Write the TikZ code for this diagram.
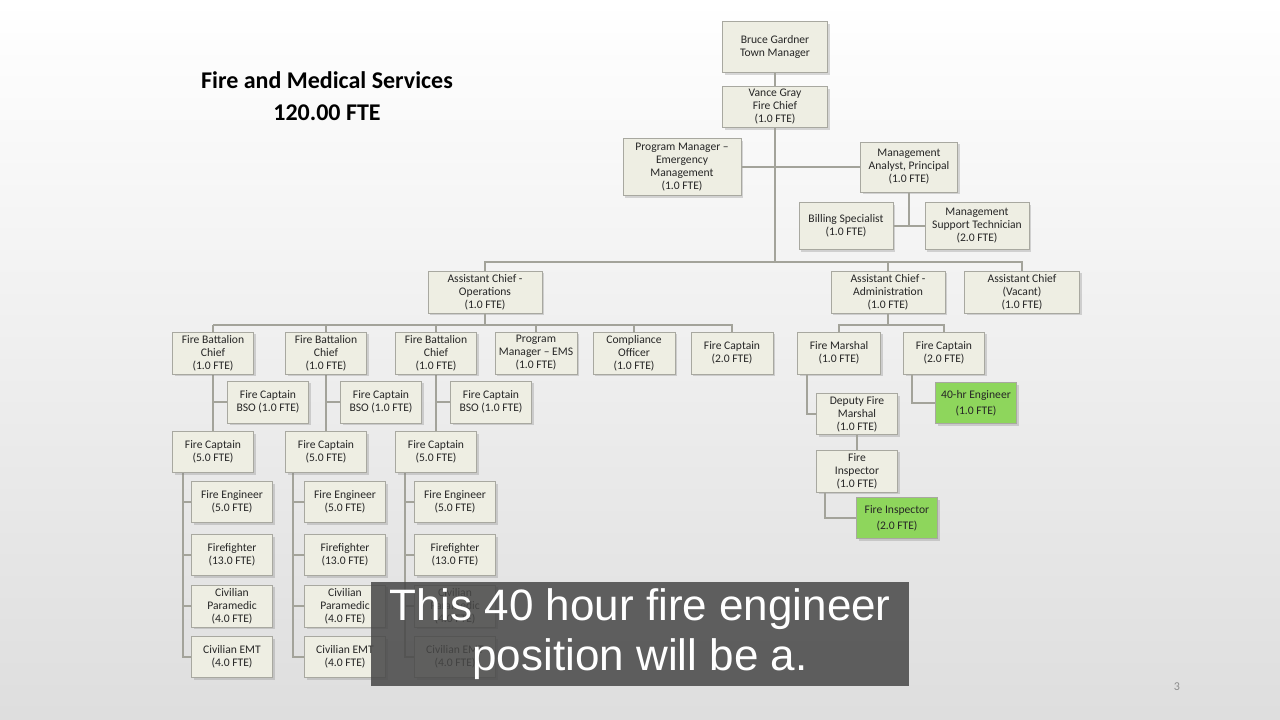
\documentclass[tikz,border=0pt]{standalone}
\usepackage{fontspec}
\setmainfont{Carlito}
\newfontfamily\capfont{Liberation Sans}
\usetikzlibrary{shadows}
\definecolor{boxfill}{HTML}{EEEEE3}
\definecolor{boxline}{HTML}{A8A8A0}
\definecolor{linkgray}{HTML}{A3A39A}
\definecolor{newgreen}{HTML}{8ED65C}
\tikzset{
  post/.style={draw=boxline,fill=boxfill,line width=1pt,align=center,inner sep=0pt,
    font=\fontsize{11.6}{13}\selectfont,text=black!85,
    drop shadow={shadow xshift=2pt,shadow yshift=-2pt,opacity=0.3}},
  newpost/.style={post,fill=newgreen},
  link/.style={draw=linkgray,line width=2.2pt}
}
\begin{document}
\begin{tikzpicture}[x=1pt,y=-1pt]
  \shade[top color=white,bottom color=black!13] (0,0) rectangle (1280,720);
  \useasboundingbox (0,0) rectangle (1280,720);

  \node (title) at (327,96) [align=center,font=\fontsize{24}{32}\selectfont\bfseries]
    {Fire and Medical Services\\120.00 FTE};
  \node (pageno) at (1177,687) [text=black!45,font=\fontsize{12}{14}\selectfont] {3};

  % top of the chart
  \node (tm) at (775,47) [post,minimum width=105,minimum height=51] {Bruce Gardner\\Town Manager};
  \node (fc) at (775,107) [post,minimum width=105,minimum height=41] {Vance Gray\\Fire Chief\\(1.0 FTE)};
  \node (pmem) at (682,167) [post,minimum width=118,minimum height=57] {Program Manager --\\Emergency\\Management\\(1.0 FTE)};
  \node (map) at (909,167) [post,minimum width=97,minimum height=50] {Management\\Analyst, Principal\\(1.0 FTE)};
  \node (bs) at (846,226) [post,minimum width=94,minimum height=47] {Billing Specialist\\(1.0 FTE)};
  \node (mst) at (977,226) [post,minimum width=104,minimum height=47] {Management\\Support Technician\\(2.0 FTE)};

  \node (aco) at (485,292) [post,minimum width=114,minimum height=42] {Assistant Chief -\\Operations\\(1.0 FTE)};
  \node (aca) at (888,292) [post,minimum width=114,minimum height=42] {Assistant Chief -\\Administration\\(1.0 FTE)};
  \node (acv) at (1022,292) [post,minimum width=115,minimum height=42] {Assistant Chief\\(Vacant)\\(1.0 FTE)};

  % operations
  \node (pmems) at (536,353) [post,minimum width=82,minimum height=42] {Program\\Manager -- EMS\\(1.0 FTE)};
  \node (co) at (634,353) [post,minimum width=82,minimum height=42] {Compliance\\Officer\\(1.0 FTE)};
  \node (fcapo) at (732,353) [post,minimum width=82,minimum height=42] {Fire Captain\\(2.0 FTE)};

  % administration
  \node (fm) at (839,353) [post,minimum width=83,minimum height=42] {Fire Marshal\\(1.0 FTE)};
  \node (fcapa) at (944,353) [post,minimum width=81,minimum height=42] {Fire Captain\\(2.0 FTE)};
  \node (eng) at (976,403) [newpost,minimum width=81,minimum height=41] {40-hr Engineer\\[3pt](1.0 FTE)};
  \node (dfm) at (857,414) [post,minimum width=81,minimum height=41] {Deputy Fire\\Marshal\\(1.0 FTE)};
  \node (fi) at (857,471) [post,minimum width=81,minimum height=42] {Fire\\Inspector\\(1.0 FTE)};
  \node (insp) at (897,518) [newpost,minimum width=81,minimum height=41] {Fire Inspector\\[3pt](2.0 FTE)};

  \coordinate (bus) at (775,262);
  \coordinate (opsbus) at (485,325);
  \coordinate (admbus) at (888,325);

  \begin{scope}[on background layer/.style={}]
  \draw[link] (tm) -- (fc);
  \draw[link] (fc.south) -- (bus);
  \draw[link] (pmem.east) -- (map.west);
  \draw[link] (map.south) -- (map.south |- bs);
  \draw[link] (bs.east) -- (mst.west);
  \draw[link] (aco.north) -- (aco.north |- bus) -- (acv.north |- bus) -- (acv.north);
  \draw[link] (aca.north) -- (aca.north |- bus);

  \draw[link] (aco.south) -- (opsbus);
  \draw[link] (213,325) -- (fcapo.north |- opsbus) -- (fcapo.north);
  \draw[link] (pmems.north) -- (pmems.north |- opsbus);
  \draw[link] (co.north) -- (co.north |- opsbus);

  \draw[link] (aca.south) -- (admbus);
  \draw[link] (fm.north) -- (fm.north |- admbus) -- (fcapa.north |- admbus) -- (fcapa.north);
  \draw[link] (fm.south -| 807,0) |- (dfm.west);
  \draw[link] (fcapa.south -| 912,0) |- (eng.west);
  \draw[link] (dfm) -- (fi);
  \draw[link] (fi.south -| 825,0) |- (insp.west);
  \end{scope}

  % the three battalions
  \foreach \c/\x/\l in {A/213/183,B/326/293,C/436/405}{
    \node (bso\c) at (\x+55,402) [post,minimum width=81,minimum height=42] {Fire Captain\\BSO (1.0 FTE)};
    \node (fe\c) at (\x+19,502) [post,minimum width=81,minimum height=41] {Fire Engineer\\(5.0 FTE)};
    \node (ff\c) at (\x+19,555) [post,minimum width=81,minimum height=41] {Firefighter\\(13.0 FTE)};
    \node (cp\c) at (\x+19,606) [post,minimum width=81,minimum height=42] {Civilian\\Paramedic\\(4.0 FTE)};
    \node (emt\c) at (\x+19,657) [post,minimum width=81,minimum height=41] {Civilian EMT\\(4.0 FTE)};
    \coordinate (fbcTop\c) at (\x,332);
    \coordinate (capBot\c) at (\x,473);
    \draw[link] (fbcTop\c) -- (fbcTop\c |- opsbus);
    \draw[link] (fbcTop\c) -- (capBot\c);
    \draw[link] (bso\c.west) -- (bso\c.west -| fbcTop\c);
    \draw[link] (capBot\c -| \l,0) |- (emt\c.west);
    \draw[link] (fe\c.west) -- (fe\c.west -| \l,0);
    \draw[link] (ff\c.west) -- (ff\c.west -| \l,0);
    \draw[link] (cp\c.west) -- (cp\c.west -| \l,0);
    \node (fbc\c) at (\x,353) [post,minimum width=81,minimum height=42] {Fire Battalion\\Chief\\(1.0 FTE)};
    \node (cap\c) at (\x,452) [post,minimum width=81,minimum height=41] {Fire Captain\\(5.0 FTE)};
  }

  % caption band
  \node (caption) at (640,634) [fill=black!72,fill opacity=0.85,text opacity=1,text=white,
    minimum width=538,minimum height=104,align=center,inner sep=0pt,
    font=\capfont\fontsize{44}{50}\selectfont] {This 40 hour fire engineer\\position will be a.};
\end{tikzpicture}
\end{document}
